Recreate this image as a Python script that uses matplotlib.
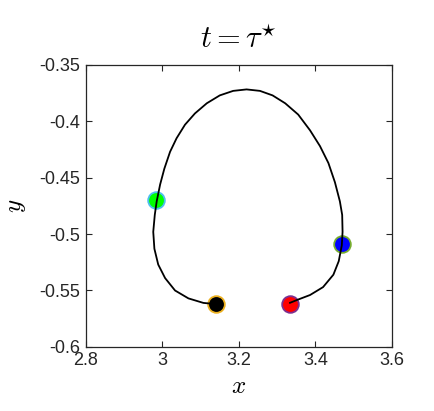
import matplotlib
matplotlib.use("Agg")
import matplotlib.pyplot as plt

plt.rcParams['mathtext.fontset'] = 'cm'
plt.rcParams['font.family'] = ['Liberation Sans', 'DejaVu Sans']

# trajectory (x, y), from black point to red point
traj_x = [3.137, 3.107, 3.068, 3.033, 3.007, 2.989, 2.979, 2.976, 2.980, 2.985,
          2.994, 3.005, 3.020, 3.037, 3.059, 3.085, 3.116, 3.150, 3.185, 3.220,
          3.255, 3.288, 3.321, 3.355, 3.386, 3.412, 3.434, 3.451, 3.464, 3.470,
          3.471, 3.469, 3.461, 3.447, 3.420, 3.386, 3.355, 3.333]
traj_y = [-0.562, -0.561, -0.557, -0.550, -0.539, -0.527, -0.513, -0.498, -0.483, -0.471,
          -0.456, -0.442, -0.427, -0.415, -0.403, -0.393, -0.384, -0.377, -0.373, -0.3717,
          -0.373, -0.377, -0.384, -0.394, -0.408, -0.422, -0.437, -0.454, -0.471, -0.483,
          -0.498, -0.510, -0.524, -0.536, -0.547, -0.554, -0.558, -0.561]

# marker points
pt_x = [2.984, 3.469, 3.333, 3.140]
pt_y = [-0.470, -0.509, -0.562, -0.562]
pt_face = ['#00ff00', '#0000ff', '#ff0000', '#000000']
pt_edge = ['#4DBEEE', '#77AC30', '#7E2F8E', '#EDB120']

xticks = [2.8, 3.0, 3.2, 3.4, 3.6]
xtick_labels = ['2.8', '3', '3.2', '3.4', '3.6']
yticks = [-0.6, -0.55, -0.5, -0.45, -0.4, -0.35]
ytick_labels = ['-0.6', '-0.55', '-0.5', '-0.45', '-0.4', '-0.35']

fig = plt.figure(figsize=(4.34, 4.11), dpi=100)
ax = fig.add_axes([0.198, 0.156, 0.705, 0.686])

for x, y, fc, ec in zip(pt_x, pt_y, pt_face, pt_edge):
    ax.plot(x, y, 'o', markersize=12, markerfacecolor=fc, markeredgecolor=ec,
            markeredgewidth=1.3, zorder=2)
ax.plot(traj_x, traj_y, color='black', lw=1.3, zorder=3,
        solid_joinstyle='round', solid_capstyle='round')

ax.set_xlim(2.8, 3.6)
ax.set_ylim(-0.6, -0.35)
ax.set_xticks(xticks)
ax.set_xticklabels(xtick_labels)
ax.set_yticks(yticks)
ax.set_yticklabels(ytick_labels)
ax.tick_params(direction='in', top=True, right=True, length=4, width=0.8,
               labelsize=13, colors='#262626')
ax.tick_params(axis='x', pad=4)
ax.tick_params(axis='y', pad=4)
for s in ax.spines.values():
    s.set_color('#262626')
    s.set_linewidth(0.9)

ax.set_xlabel('$x$', fontsize=18, labelpad=3)
ax.set_ylabel('$y$', fontsize=18, labelpad=8)
ax.set_title(r'$t = \tau^{\star}$', fontsize=22, pad=12)

fig.savefig('out.png', dpi=100)
